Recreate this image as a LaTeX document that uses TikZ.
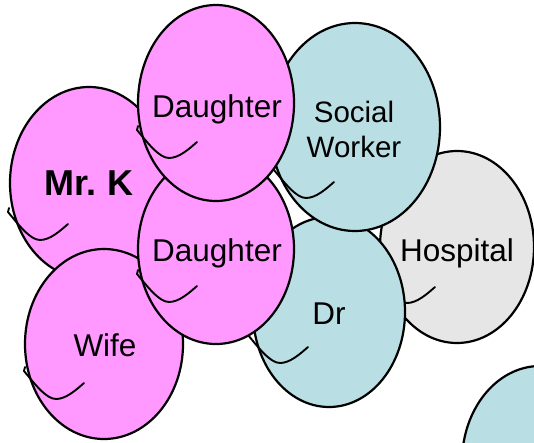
\documentclass[tikz,border=0pt]{standalone}
\usepackage{fontspec}
\setmainfont{Liberation Sans}
\usetikzlibrary{shapes.geometric,calc}
\definecolor{balpink}{HTML}{FF99FF}
\definecolor{balblue}{HTML}{B9DEE3}
\definecolor{balgray}{HTML}{E6E6E6}
\tikzset{
  balloon/.style={ellipse, draw=black, line width=2.2pt, inner sep=0pt,
    minimum width=156pt, minimum height=192pt},
  lbl/.style={inner sep=0pt, align=center, font=\fontsize{31.5}{35}\selectfont},
  stringline/.style={draw=black, line width=1.9pt, line cap=round, line join=round},
  balstring/.pic={
    \draw[stringline] (1,-4) -- (0,0) .. controls (10,12) and (22,28) .. (32,28)
      .. controls (42,28) and (52,19) .. (60,12);
  }
}
\begin{document}
\begin{tikzpicture}[x=1pt,y=-1pt]
\clip (0,0) rectangle (534,442);
% Hospital
\node[balloon, fill=balgray, minimum width=154pt, minimum height=192pt] (hosp) at (457,247) {};
\node[lbl, anchor=base] (hospt) at ($(hosp.center)+(0,14)$) {Hospital};
\pic at ($(hosp.center)+(-82,28)$) {balstring};
% Dr
\node[balloon, fill=balblue, minimum width=152pt, minimum height=190pt] (dr) at (329,312) {};
\node[lbl, anchor=base] (drt) at ($(dr.center)+(0,12)$) {Dr};
\pic at ($(dr.center)+(-81,23)$) {balstring};
% Social worker
\node[balloon, fill=balblue, minimum width=170pt, minimum height=208pt] (sw) at (355,127) {};
\node[lbl, font=\fontsize{29.5}{35}\selectfont] (swt) at (354,129) {Social\\Worker};
\pic at ($(sw.center)+(-81,43)$) {balstring};
% Mr. K
\node[balloon, fill=balpink, minimum width=158pt, minimum height=192pt] (mk) at (89,183) {};
\node[lbl, anchor=base, font=\fontsize{36}{40}\selectfont\bfseries] (mkt) at ($(mk.center)+(0,12)$) {Mr.\hspace{0.28em}K};
\pic at ($(mk.center)+(-81,29)$) {balstring};
% Wife
\node[balloon, fill=balpink, minimum width=158pt, minimum height=190pt] (wife) at (104,344) {};
\node[lbl, anchor=base] (wifet) at ($(wife.center)+(1,12)$) {Wife};
\pic at ($(wife.center)+(-80,27)$) {balstring};
% Daughter (lower)
\node[balloon, fill=balpink, minimum width=156pt, minimum height=190pt] (dlow) at (216,249) {};
\node[lbl, anchor=base] (dlowt) at ($(dlow.center)+(1,12)$) {Daughter};
\pic at ($(dlow.center)+(-79,25)$) {balstring};
% Daughter (upper)
\node[balloon, fill=balpink, minimum width=156pt, minimum height=196pt] (dup) at (216,103) {};
\node[lbl, anchor=base] (dupt) at ($(dup.center)+(1,14)$) {Daughter};
\pic at ($(dup.center)+(-79,27)$) {balstring};
% partial balloon bottom right
\node[balloon, fill=balblue, minimum width=156pt, minimum height=192pt] (part) at (540,462) {};
\end{tikzpicture}
\end{document}
